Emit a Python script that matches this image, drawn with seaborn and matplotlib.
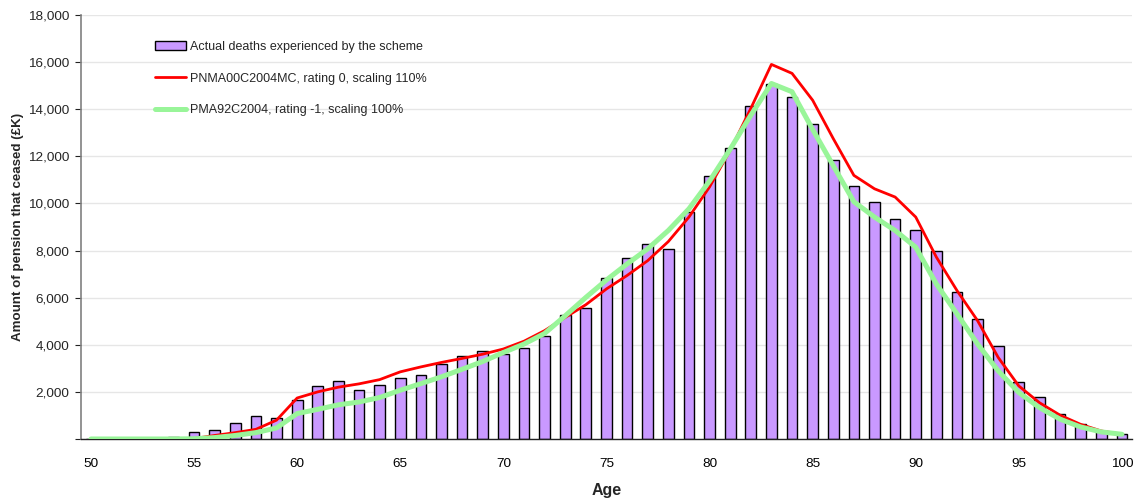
import numpy as np
import pandas as pd
import matplotlib
matplotlib.use("Agg")
import matplotlib.pyplot as plt
from matplotlib.patches import Patch
from matplotlib.lines import Line2D
from matplotlib.ticker import FuncFormatter, MultipleLocator
import seaborn as sns

ages = list(range(50, 101))
actual = [0, 0, 0, 0, 100, 300, 380, 690, 990, 870,
          1650, 2250, 2450, 2080, 2300, 2600, 2700, 3180, 3520, 3720,
          3620, 3870, 4360, 5260, 5580, 6820, 7680, 8280, 8050, 9650,
          11150, 12350, 14130, 15050, 14520, 13380, 11830, 10750, 10080, 9320,
          8850, 7960, 6260, 5110, 3940, 2400, 1790, 1080, 650, 340,
          200]
pnma00 = [0, 0, 0, 0, 5, 20, 150, 270, 410, 800,
          1740, 2000, 2200, 2340, 2520, 2850, 3060, 3250, 3420, 3600,
          3820, 4150, 4600, 5160, 5700, 6370, 6940, 7570, 8380, 9420,
          10700, 12250, 14030, 15900, 15520, 14380, 12750, 11190, 10620, 10270,
          9420, 7720, 6300, 5020, 3460, 2250, 1540, 1010, 620, 340,
          200]
pma92 = [0, 0, 0, 0, 0, 10, 60, 150, 270, 470,
         1080, 1260, 1450, 1570, 1760, 2070, 2350, 2640, 2960, 3290,
         3670, 4030, 4480, 5230, 6010, 6750, 7430, 8070, 8850, 9770,
         10950, 12300, 13740, 15090, 14740, 13140, 11600, 10070, 9420, 8850,
         8140, 6580, 5310, 4030, 2890, 1970, 1330, 840, 510, 300,
         200]
labels = ["Actual deaths experienced by the scheme",
          "PNMA00C2004MC, rating 0, scaling 110%",
          "PMA92C2004, rating -1, scaling 100%"]

df = pd.DataFrame({"age": ages, "actual": actual, "pnma": pnma00, "pma": pma92})

sns.set_style("white")
plt.rcParams['font.family'] = ['Liberation Sans', 'DejaVu Sans']

fig = plt.figure(figsize=(11.36, 4.98), dpi=100)
ax = fig.add_axes([0.071, 0.1185, 0.9257, 0.8515])

bar_color = "#C999FF"
red = "#FF0000"
green = "#99F599"

sns.barplot(data=df, x="age", y="actual", native_scale=True, width=0.52,
            color=bar_color, edgecolor="black", linewidth=1.0, saturation=1,
            ax=ax, zorder=2)
sns.lineplot(data=df, x="age", y="pnma", color=red, linewidth=2.0, ax=ax, zorder=3)
sns.lineplot(data=df, x="age", y="pma", color=green, linewidth=3.6, ax=ax, zorder=4)

ax.set_xlim(49.5, 100.5)
ax.set_ylim(0, 18000)
ax.yaxis.set_major_locator(MultipleLocator(2000))
ax.yaxis.set_major_formatter(FuncFormatter(lambda v, p: "" if v == 0 else f"{int(v):,}"))
ax.set_xticks(list(range(50, 101, 5)))
ax.set_xticks(np.arange(49.5, 101, 1.0), minor=True)
ax.tick_params(axis="x", which="major", length=0, labelsize=9.7, pad=14, colors="black")
ax.tick_params(axis="x", which="minor", length=4, width=0.8, color="#222222", direction="out")
ax.tick_params(axis="y", which="major", length=4, width=0.8, color="#222222", labelsize=9.7,
               direction="out", left=True, pad=4)
ax.yaxis.grid(True, color="#E6E6E6", linewidth=1.0, zorder=0)
ax.set_axisbelow(True)

for s in ["top", "right"]:
    ax.spines[s].set_visible(False)
ax.spines["left"].set_color("#808080")
ax.spines["left"].set_linewidth(1.2)
ax.spines["bottom"].set_color("#222222")
ax.spines["bottom"].set_linewidth(1.0)

ax.set_xlabel("Age", fontsize=11.5, fontweight="bold", labelpad=9)
ax.set_ylabel("Amount of pension that ceased (£K)", fontsize=9.6, fontweight="bold", labelpad=3)

handles = [Patch(facecolor=bar_color, edgecolor="black", linewidth=1.0),
           Line2D([0], [0], color=red, linewidth=2.0),
           Line2D([0], [0], color=green, linewidth=3.6)]
ax.legend(handles, labels, loc="upper left", bbox_to_anchor=(0.066, 0.95), frameon=False,
          fontsize=9, handlelength=2.5, handleheight=0.7, handletextpad=0.3,
          labelspacing=1.55, borderaxespad=0)

fig.savefig("out.png", dpi=100)
